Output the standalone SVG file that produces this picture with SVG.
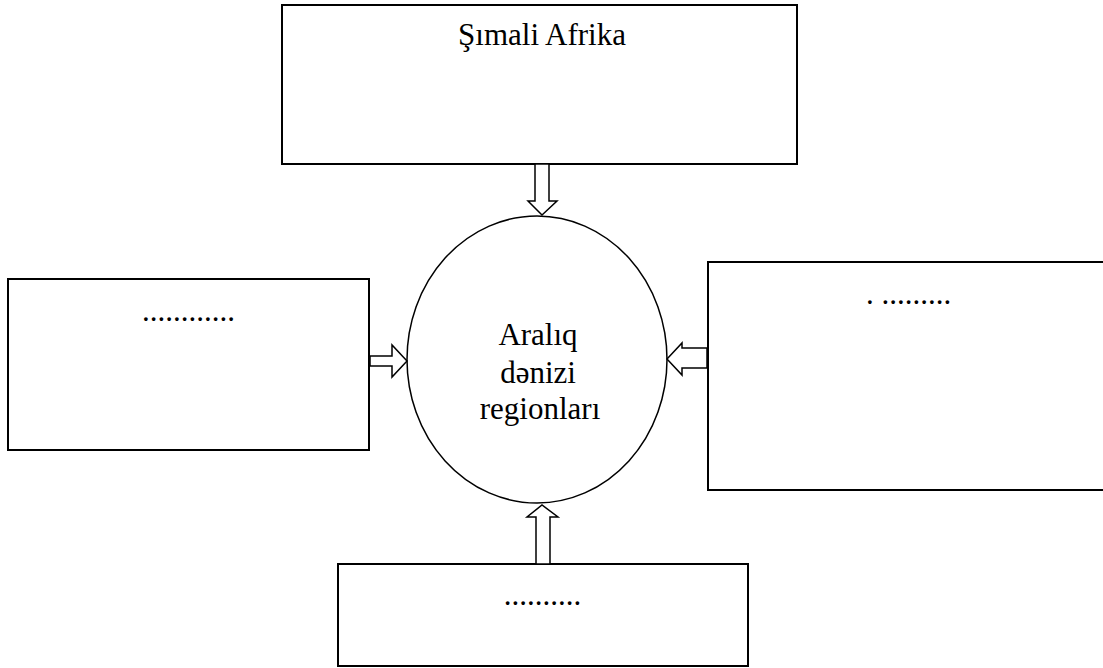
<svg xmlns="http://www.w3.org/2000/svg" width="1103" height="668" viewBox="0 0 1103 668">
<style>
.box{fill:#fff;stroke:#000;stroke-width:2}
.ell{fill:#fff;stroke:#000;stroke-width:1.5}
.arr{fill:#fff;stroke:#000;stroke-width:1.5;stroke-linejoin:miter}
.t{font-family:"Liberation Serif","Times New Roman",serif;fill:#000;text-anchor:middle}
.big{font-size:31px}
</style>
<rect width="1103" height="668" fill="#fff"/>
<g id="node-top">
<rect class="box" x="282" y="5" width="515" height="159"/>
<text class="t big" x="542" y="45">Şımali Afrika</text>
</g>
<g id="node-center">
<ellipse class="ell" cx="537" cy="359.5" rx="130" ry="143.5"/>
<text class="t big" x="538" y="345">Aralıq</text>
<text class="t big" x="538" y="383">dənizi</text>
<text class="t big" x="540" y="419">regionları</text>
</g>
<g id="node-left">
<rect class="box" x="8" y="279" width="361" height="171"/>
<text class="t big" x="188.5" y="321">............</text>
</g>
<g id="node-right">
<rect class="box" x="708" y="262" width="400" height="228"/>
<text class="t big" x="908.5" y="304">. .........</text>
</g>
<g id="node-bottom">
<rect class="box" x="338" y="564" width="410" height="102"/>
<text class="t big" x="542.5" y="605">..........</text>
</g>
<g id="connectors">
<polygon class="arr" points="535,164 549,164 549,201 557,201 542,215 528,201 535,201"/>
<polygon class="arr" points="370,356 392,356 392,345 407,361 392,377 392,366 370,366"/>
<polygon class="arr" points="707,348 682,348 682,343 667,359 682,375 682,368 707,368"/>
<polygon class="arr" points="536,564 536,517 527,517 542,505 558,517 550,517 550,564"/>
</g>
</svg>
